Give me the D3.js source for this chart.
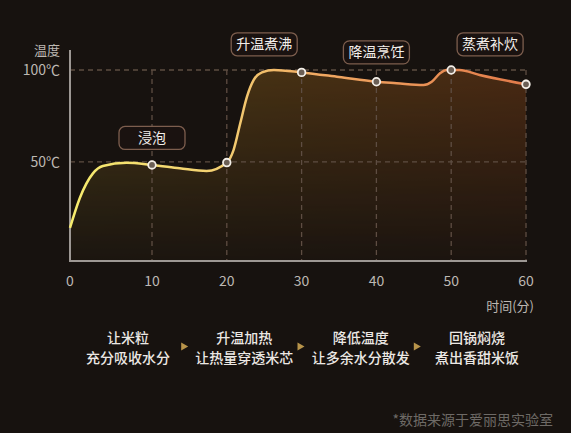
<!DOCTYPE html>
<html>
<head>
<meta charset="utf-8">
<script src="https://cdn.jsdelivr.net/npm/d3@7"></script>
<style>
  html, body { margin: 0; padding: 0; background: #17120f; }
  svg { display: block; font-family: "Noto Sans CJK SC", "Noto Sans", sans-serif; }
</style>
</head>
<body>
<svg id="chart"></svg>
<script>
// curve (minutes, °C)
const times = [0, 1.2, 2.8, 4, 6.9, 10, 13.7, 17.3, 20, 20.9, 21.8, 22.7, 23.6, 24.7, 26.3, 30, 35, 40, 42.7, 46.3, 47.4, 48.5, 49.4, 50, 51.1, 53.8, 60];
const temps = [14, 30.3, 43.7, 47.7, 49.5, 48.3, 46.5, 45, 49.6, 56.4, 71, 85.5, 94.6, 98.7, 100, 98.7, 96.2, 93.6, 92.8, 91.8, 93.6, 98.2, 100, 100, 100, 97.3, 92.2];

const markerTimes = [10, 20, 30, 40, 50, 60];
const markerTemps = [48.3, 49.6, 98.7, 93.6, 100, 92.2];

const xTicks = [0, 10, 20, 30, 40, 50, 60];
const yTicks = [50, 100];
const yTickLabels = ["50℃", "100℃"];

const stageLabels = ["浸泡", "升温煮沸", "降温烹饪", "蒸煮补炊"];
const stageTimes = [10, 25, 40, 55.2];
const stageTemps = [63, 114, 109.6, 114];

const stepTitles = ["让米粒", "升温加热", "降低温度", "回锅焖烧"];
const stepTexts = ["充分吸收水分", "让热量穿透米芯", "让多余水分散发", "煮出香甜米饭"];

document.addEventListener("DOMContentLoaded", function () {
    const width = 571;
    const height = 433;

    const svg = d3.select("#chart")
        .attr("width", width)
        .attr("height", height);

    svg.append("rect")
        .attr("width", width)
        .attr("height", height)
        .attr("fill", "#17120f");

    // the first ten minutes are drawn a little wider than the rest in the original
    const x = d3.scaleLinear().domain([0, 10, 60]).range([70, 152, 526]);
    const y = d3.scaleLinear().domain([-4, 100]).range([261, 70]);

    const defs = svg.append("defs");

    const lineGrad = defs.append("linearGradient")
        .attr("id", "lineGrad")
        .attr("gradientUnits", "userSpaceOnUse")
        .attr("x1", x(0)).attr("x2", x(60))
        .attr("y1", 0).attr("y2", 0);
    lineGrad.append("stop").attr("offset", "0%").attr("stop-color", "#f6ec6e");
    lineGrad.append("stop").attr("offset", "33%").attr("stop-color", "#f3cf72");
    lineGrad.append("stop").attr("offset", "55%").attr("stop-color", "#f0a862");
    lineGrad.append("stop").attr("offset", "100%").attr("stop-color", "#e27a4a");

    const areaGrad = defs.append("linearGradient")
        .attr("id", "areaGrad")
        .attr("gradientUnits", "userSpaceOnUse")
        .attr("x1", x(0)).attr("x2", x(60))
        .attr("y1", 0).attr("y2", 0);
    areaGrad.append("stop").attr("offset", "0%").attr("stop-color", "#a88a2a");
    areaGrad.append("stop").attr("offset", "45%").attr("stop-color", "#a8701e");
    areaGrad.append("stop").attr("offset", "100%").attr("stop-color", "#b05a1c");

    const fadeGrad = defs.append("linearGradient")
        .attr("id", "fadeGrad")
        .attr("gradientUnits", "userSpaceOnUse")
        .attr("x1", 0).attr("x2", 0)
        .attr("y1", y(100)).attr("y2", y(-4));
    fadeGrad.append("stop").attr("offset", "0%").attr("stop-color", "#fff").attr("stop-opacity", 0.33);
    fadeGrad.append("stop").attr("offset", "100%").attr("stop-color", "#fff").attr("stop-opacity", 0.03);

    defs.append("mask")
        .attr("id", "fadeMask")
        .attr("maskUnits", "userSpaceOnUse")
        .append("rect")
        .attr("x", 0).attr("y", 0)
        .attr("width", width).attr("height", height)
        .attr("fill", "url(#fadeGrad)");

    const points = times.map((t, i) => [t, temps[i]]);

    // area under the curve
    const area = d3.area()
        .x(d => x(d[0]))
        .y0(y(-4))
        .y1(d => y(d[1]))
        .curve(d3.curveMonotoneX);

    svg.append("path")
        .datum(points)
        .attr("d", area)
        .attr("fill", "url(#areaGrad)")
        .attr("mask", "url(#fadeMask)");

    // dashed grid
    svg.selectAll(".vgrid")
        .data(xTicks.slice(1))
        .enter()
        .append("line")
        .attr("x1", d => x(d)).attr("x2", d => x(d))
        .attr("y1", y(100)).attr("y2", y(-4))
        .attr("stroke", "#5e4d42")
        .attr("stroke-width", 1.3)
        .attr("stroke-dasharray", "5,4");

    svg.selectAll(".hgrid")
        .data(yTicks)
        .enter()
        .append("line")
        .attr("x1", x(0)).attr("x2", x(60))
        .attr("y1", d => y(d)).attr("y2", d => y(d))
        .attr("stroke", "#5e4d42")
        .attr("stroke-width", 1.3)
        .attr("stroke-dasharray", "5,4");

    // axes
    svg.append("line")
        .attr("x1", x(0)).attr("x2", x(0))
        .attr("y1", 50).attr("y2", y(-4))
        .attr("stroke", "#9d9894")
        .attr("stroke-width", 2);
    svg.append("line")
        .attr("x1", x(0) - 1).attr("x2", x(60) + 1)
        .attr("y1", y(-4)).attr("y2", y(-4))
        .attr("stroke", "#9d9894")
        .attr("stroke-width", 2);

    svg.selectAll(".xlabel")
        .data(xTicks)
        .enter()
        .append("text")
        .attr("x", d => x(d))
        .attr("y", 286)
        .attr("text-anchor", "middle")
        .attr("fill", "#bdb8b3")
        .attr("font-size", 14)
        .text(d => d);

    svg.selectAll(".ylabel")
        .data(yTicks)
        .enter()
        .append("text")
        .attr("x", 60)
        .attr("y", d => y(d) + 5)
        .attr("text-anchor", "end")
        .attr("fill", "#bdb8b3")
        .attr("font-size", 14)
        .text((d, i) => yTickLabels[i]);

    svg.append("text")
        .attr("x", 60).attr("y", 55)
        .attr("text-anchor", "end")
        .attr("fill", "#bdb8b3")
        .attr("font-size", 13)
        .text("温度");

    svg.append("text")
        .attr("x", 534).attr("y", 311)
        .attr("text-anchor", "end")
        .attr("fill", "#bdb8b3")
        .attr("font-size", 13)
        .text("时间(分)");

    // temperature curve
    const line = d3.line()
        .x(d => x(d[0]))
        .y(d => y(d[1]))
        .curve(d3.curveMonotoneX);

    svg.append("path")
        .datum(points)
        .attr("d", line)
        .attr("fill", "none")
        .attr("stroke", "url(#lineGrad)")
        .attr("stroke-width", 2.5);

    svg.selectAll(".marker")
        .data(markerTimes)
        .enter()
        .append("circle")
        .attr("cx", d => x(d))
        .attr("cy", (d, i) => y(markerTemps[i]))
        .attr("r", 3.8)
        .attr("fill", "#6b5f55")
        .attr("stroke", "#f4efe8")
        .attr("stroke-width", 1.8);

    // stage labels
    const stage = svg.selectAll(".stage")
        .data(stageLabels)
        .enter()
        .append("g")
        .attr("transform", (d, i) => `translate(${x(stageTimes[i])}, ${y(stageTemps[i])})`);

    stage.append("rect")
        .attr("x", -33).attr("y", -11.5)
        .attr("width", 66).attr("height", 23)
        .attr("rx", 6)
        .attr("fill", "#1a1210")
        .attr("stroke", "#7d5e4e")
        .attr("stroke-width", 1.3);

    stage.append("text")
        .attr("y", 5)
        .attr("text-anchor", "middle")
        .attr("fill", "#f2eeea")
        .attr("font-size", 14)
        .text(d => d);

    // process steps underneath
    const stepX = d3.scalePoint().domain(d3.range(stepTitles.length)).range([128, 477]);

    svg.selectAll(".stepTitle")
        .data(stepTitles)
        .enter()
        .append("text")
        .attr("x", (d, i) => stepX(i))
        .attr("y", 343)
        .attr("text-anchor", "middle")
        .attr("fill", "#ece8e4")
        .attr("font-size", 14)
        .attr("font-weight", 500)
        .text(d => d);

    svg.selectAll(".stepText")
        .data(stepTexts)
        .enter()
        .append("text")
        .attr("x", (d, i) => stepX(i))
        .attr("y", 363)
        .attr("text-anchor", "middle")
        .attr("fill", "#ece8e4")
        .attr("font-size", 14)
        .attr("font-weight", 500)
        .text(d => d);

    svg.selectAll(".arrow")
        .data(stepTitles.slice(1))
        .enter()
        .append("path")
        .attr("d", (d, i) => {
            const cx = (stepX(i) + stepX(i + 1)) / 2 - 2;
            return `M${cx - 3},342.5 L${cx + 4},346.5 L${cx - 3},350.5 Z`;
        })
        .attr("fill", "#b8944a");

    svg.append("text")
        .attr("x", 553).attr("y", 425)
        .attr("text-anchor", "end")
        .attr("fill", "#6e6a66")
        .attr("font-size", 14)
        .text("*数据来源于爱丽思实验室");
});
</script>
</body>
</html>
